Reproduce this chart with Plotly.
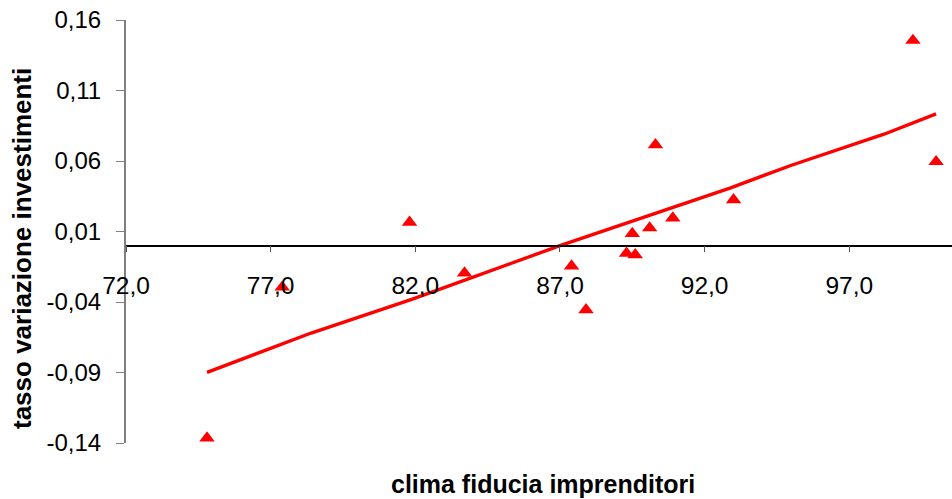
import plotly.graph_objects as go

# Observed points (clima fiducia imprenditori vs tasso variazione investimenti)
x_obs = [74.8, 77.4, 81.8, 83.7, 87.4, 87.9, 89.3, 89.5, 89.6, 90.1, 90.3, 90.9, 93.0, 99.2, 100.0]
y_obs = [-0.1365, -0.0295, 0.0165, -0.0195, -0.0145, -0.0455, -0.0055, 0.0085, -0.0065, 0.0125, 0.0715, 0.0195, 0.0325, 0.1455, 0.0595]

# Fitted line
x_fit = [74.8, 76.75, 78.4, 81.9, 87.0, 92.9, 95.0, 98.2, 100.0]
y_fit = [-0.0899, -0.075, -0.062, -0.038, 0.0, 0.041, 0.057, 0.079, 0.0934]

# Tick labels
x_ticks = [72, 77, 82, 87, 92, 97]
x_tick_labels = ["72,0", "77,0", "82,0", "87,0", "92,0", "97,0"]
y_ticks = [-0.14, -0.09, -0.04, 0.01, 0.06, 0.11, 0.16]
y_tick_labels = ["-0,14", "-0,09", "-0,04", "0,01", "0,06", "0,11", "0,16"]

x_title = "clima fiducia imprenditori"
y_title = "tasso variazione investimenti"

FONT = "Liberation Sans, Arial, sans-serif"

fig = go.Figure()
fig.add_trace(go.Scatter(x=x_fit, y=y_fit, mode="lines",
                         line=dict(color="#FF0000", width=3.4), hoverinfo="skip",
                         showlegend=False))
fig.add_trace(go.Scatter(x=x_obs, y=y_obs, mode="markers",
                         marker=dict(symbol="triangle-up", size=13.5, color="#FF0000",
                                     line=dict(width=0)),
                         showlegend=False))

y_min, y_max = -0.14, 0.16
fig.update_layout(
    width=952, height=499, autosize=False,
    margin=dict(l=126, r=0, t=20, b=56, pad=0),
    paper_bgcolor="white", plot_bgcolor="white",
    font=dict(family=FONT, color="black", size=24),
    xaxis=dict(range=[72, 100.55], tickmode="array", tickvals=x_ticks, ticktext=x_tick_labels,
               showgrid=False, zeroline=False,
               showline=True, linecolor="black", linewidth=1.5,
               ticks="outside", ticklen=6, tickcolor="#555555", tickwidth=1,
               anchor="free", position=(0 - y_min) / (y_max - y_min),
               ticklabelstandoff=12,
               tickfont=dict(family=FONT, size=24.5, color="black")),
    yaxis=dict(range=[y_min, y_max], tickmode="array", tickvals=y_ticks, ticktext=y_tick_labels,
               showgrid=False, zeroline=False,
               showline=True, linecolor="#808080", linewidth=2,
               ticks="outside", ticklen=8, tickcolor="#808080", tickwidth=1,
               ticklabelstandoff=10,
               tickfont=dict(family=FONT, size=24, color="black")),
    annotations=[
        dict(text="<b>" + x_title + "</b>", xref="paper", yref="paper",
             x=(543 - 126) / 826, y=(443 - 484) / 423, xanchor="center", yanchor="middle",
             showarrow=False, font=dict(family=FONT, size=25, color="black")),
        dict(text="<b>" + y_title + "</b>", xref="paper", yref="paper",
             x=0, xshift=-(126 - 22), y=(443 - 249) / 423, xanchor="center", yanchor="middle",
             textangle=-90, showarrow=False, font=dict(family=FONT, size=26, color="black")),
    ],
)

fig.write_html("out.html", config={"displayModeBar": False},
               post_script="document.body.style.margin='0px';")
